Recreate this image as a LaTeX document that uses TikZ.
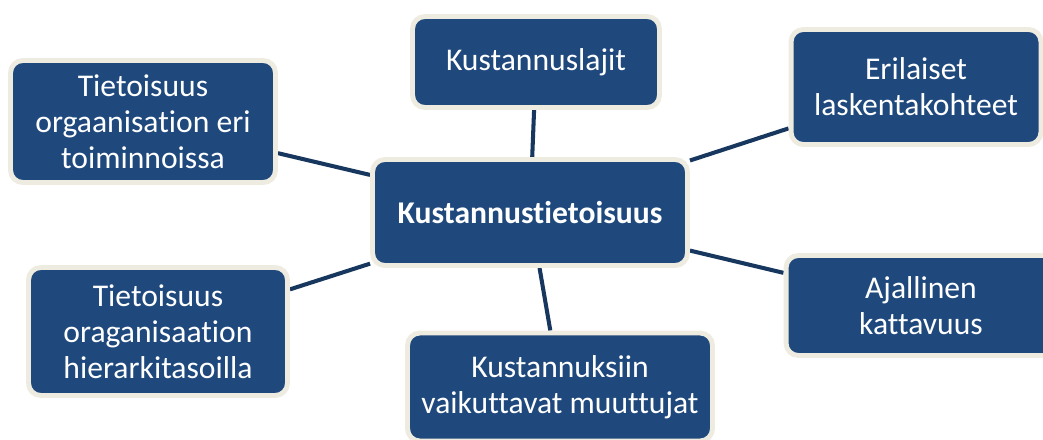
\documentclass[tikz,border=0pt]{standalone}
\usepackage{fontspec}
\setmainfont{Carlito}[Ligatures=NoCommon]
\usetikzlibrary{backgrounds}
\definecolor{boxblue}{RGB}{31,73,125}
\definecolor{boxrim}{RGB}{238,236,225}
\definecolor{linknavy}{RGB}{23,55,94}
\begin{document}
\begin{tikzpicture}[x=0.02cm, y=-0.02cm,
    topic/.style={rectangle, draw=boxrim, line width=2.8pt, fill=boxblue,
                  rounded corners=7pt, text=white, align=center,
                  font=\fontsize{18}{20.5}\selectfont, inner sep=2pt},
    hub/.style={topic, font=\fontsize{18}{20.5}\selectfont\bfseries},
    link/.style={draw=linknavy, line width=2.3pt}
]
    \clip (0,0) rectangle (1043,439);

    \node[hub, minimum width=6.3cm, minimum height=2.12cm] (core) at (530, 212.5) {Kustannustietoisuus};

    \node[topic, minimum width=4.94cm, minimum height=1.82cm] (lajit) at (536, 62) {Kustannuslajit};
    \node[topic, minimum width=5.0cm, minimum height=2.3cm] (kohteet) at (916, 87) {Erilaiset\\laskentakohteet};
    \node[topic, minimum width=5.3cm, minimum height=2.44cm] (toiminnot) at (143, 121.5) {Tietoisuus\\orgaanisation eri\\toiminnoissa};
    \node[topic, minimum width=5.18cm, minimum height=2.56cm] (tasot) at (158, 331.5) {Tietoisuus\\oraganisaation\\hierarkitasoilla};
    \node[topic, minimum width=5.4cm, minimum height=2.0cm] (aika) at (921, 305.5) {Ajallinen\\kattavuus};
    \node[topic, minimum width=6.1cm, minimum height=2.16cm] (muuttujat) at (560, 387) {Kustannuksiin\\vaikuttavat muuttujat};

    \begin{scope}[on background layer]
        \draw[link] (core) -- (lajit);
        \draw[link] (core) -- (kohteet);
        \draw[link] (core) -- (toiminnot);
        \draw[link] (core) -- (tasot);
        \draw[link] (core) -- (aika);
        \draw[link] (core) -- (muuttujat);
    \end{scope}
\end{tikzpicture}
\end{document}
